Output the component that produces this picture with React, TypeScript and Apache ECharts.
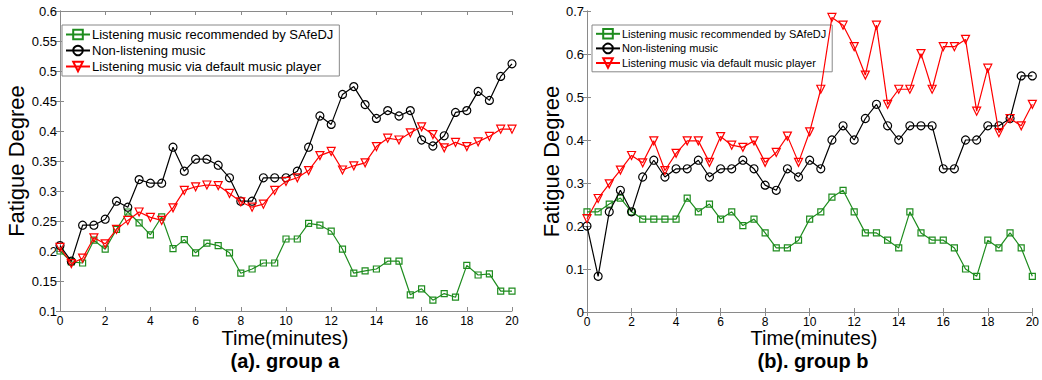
import React, { useEffect, useRef } from "react";
import * as echarts from "echarts";

const TIMES = [0, 0.5, 1, 1.5, 2, 2.5, 3, 3.5, 4, 4.5, 5, 5.5, 6, 6.5, 7, 7.5, 8, 8.5, 9, 9.5, 10, 10.5, 11, 11.5, 12, 12.5, 13, 13.5, 14, 14.5, 15, 15.5, 16, 16.5, 17, 17.5, 18, 18.5, 19, 19.5, 20];

const SERIES_NAMES = [
  "Listening music recommended by SAfeDJ",
  "Non-listening music",
  "Listening music via default music player",
];

// group a
const A_SAFEDJ = [0.2, 0.182, 0.18, 0.218, 0.203, 0.236, 0.265, 0.247, 0.227, 0.257, 0.204, 0.219, 0.197, 0.213, 0.209, 0.197, 0.163, 0.17, 0.18, 0.18, 0.22, 0.22, 0.246, 0.243, 0.233, 0.203, 0.163, 0.167, 0.17, 0.183, 0.183, 0.127, 0.137, 0.118, 0.129, 0.123, 0.176, 0.16, 0.162, 0.133, 0.133];
const A_NONE = [0.209, 0.183, 0.243, 0.243, 0.253, 0.283, 0.273, 0.319, 0.313, 0.313, 0.373, 0.333, 0.353, 0.353, 0.343, 0.322, 0.283, 0.283, 0.322, 0.322, 0.322, 0.333, 0.373, 0.425, 0.411, 0.461, 0.474, 0.444, 0.421, 0.434, 0.425, 0.434, 0.385, 0.375, 0.392, 0.431, 0.434, 0.466, 0.451, 0.491, 0.512];
const A_DEFAULT = [0.206, 0.179, 0.188, 0.222, 0.212, 0.236, 0.251, 0.265, 0.256, 0.251, 0.272, 0.301, 0.307, 0.31, 0.309, 0.296, 0.282, 0.273, 0.278, 0.301, 0.316, 0.322, 0.334, 0.359, 0.366, 0.335, 0.342, 0.347, 0.374, 0.388, 0.385, 0.397, 0.407, 0.394, 0.372, 0.381, 0.374, 0.382, 0.391, 0.403, 0.403];

// group b
const B_SAFEDJ = [0.233, 0.233, 0.251, 0.265, 0.233, 0.216, 0.216, 0.216, 0.216, 0.265, 0.233, 0.251, 0.216, 0.233, 0.201, 0.216, 0.184, 0.149, 0.149, 0.167, 0.216, 0.233, 0.267, 0.283, 0.233, 0.184, 0.184, 0.167, 0.149, 0.233, 0.184, 0.167, 0.167, 0.149, 0.1, 0.083, 0.167, 0.149, 0.184, 0.149, 0.083];
const B_NONE = [0.2, 0.083, 0.233, 0.283, 0.233, 0.314, 0.353, 0.314, 0.333, 0.333, 0.353, 0.314, 0.333, 0.333, 0.353, 0.333, 0.295, 0.283, 0.333, 0.314, 0.353, 0.333, 0.4, 0.433, 0.4, 0.45, 0.483, 0.433, 0.4, 0.433, 0.433, 0.433, 0.333, 0.333, 0.4, 0.4, 0.433, 0.433, 0.45, 0.549, 0.549];
const B_DEFAULT = [0.217, 0.264, 0.298, 0.33, 0.364, 0.347, 0.398, 0.329, 0.369, 0.398, 0.398, 0.348, 0.408, 0.388, 0.383, 0.398, 0.348, 0.371, 0.409, 0.348, 0.419, 0.518, 0.685, 0.667, 0.617, 0.551, 0.667, 0.483, 0.518, 0.518, 0.601, 0.518, 0.617, 0.617, 0.634, 0.467, 0.567, 0.417, 0.45, 0.433, 0.483];

const X_TITLE = "Time(minutes)";
const Y_TITLE = "Fatigue Degree";
const CAPTIONS = ["(a). group a", "(b). group b"];

const COLORS = ["#1e8c1e", "#000000", "#ff0000"];
const SYMBOLS = ["rect", "circle", "triangle"];
const SYMBOL_SIZES = [6, 8, 8];
const SYMBOL_ROTATES = [0, 0, 180];

const FONT = "Liberation Sans, Arial, sans-serif";
const AXIS_COLOR = "#8a8a8a";

export default function App() {
  const ref = useRef<HTMLDivElement>(null);

  useEffect(() => {
    if (!ref.current) return;
    const chart = echarts.init(ref.current, null, { renderer: "svg" });

    const grids = [
      { left: 60, top: 11, width: 452, height: 300 },
      { left: 587, top: 11, width: 452, height: 301 },
    ];
    const yRanges = [
      { min: 0.1, max: 0.6, interval: 0.05 },
      { min: 0, max: 0.7, interval: 0.1 },
    ];

    const xAxes: any[] = [];
    const yAxes: any[] = [];
    [0, 1].forEach((g) => {
      const baseX = {
        type: "value",
        gridIndex: g,
        min: 0,
        max: 20,
        interval: 2,
        splitLine: { show: false },
        axisLine: { show: true, lineStyle: { color: AXIS_COLOR, width: 1 } },
        axisTick: { show: true, inside: true, length: 4, lineStyle: { color: AXIS_COLOR } },
      };
      xAxes.push({
        ...baseX,
        position: "bottom",
        axisLabel: { show: true, color: "#000", fontSize: 12, lineHeight: 12, fontFamily: FONT, margin: 4 },
      });
      xAxes.push({ ...baseX, position: "top", axisLabel: { show: false } });

      const r = yRanges[g];
      const baseY = {
        type: "value",
        gridIndex: g,
        min: r.min,
        max: r.max,
        interval: r.interval,
        splitLine: { show: false },
        axisLine: { show: true, lineStyle: { color: AXIS_COLOR, width: 1 } },
        axisTick: { show: true, inside: true, length: 4, lineStyle: { color: AXIS_COLOR } },
      };
      yAxes.push({
        ...baseY,
        position: "left",
        axisLabel: {
          show: true,
          color: "#000",
          fontSize: 13,
          fontFamily: FONT,
          margin: 3,
          formatter: (v: number) => String(Math.round(v * 100) / 100),
        },
        name: Y_TITLE,
        nameLocation: "middle",
        nameGap: g === 0 ? 30 : 25,
        nameTextStyle: { color: "#000", fontSize: 22, fontFamily: FONT },
      });
      yAxes.push({ ...baseY, position: "right", axisLabel: { show: false } });
    });

    const groups = [
      [A_SAFEDJ, A_NONE, A_DEFAULT],
      [B_SAFEDJ, B_NONE, B_DEFAULT],
    ];
    const series: any[] = [];
    groups.forEach((arrs, g) => {
      arrs.forEach((vals, k) => {
        series.push({
          type: "line",
          name: SERIES_NAMES[k],
          xAxisIndex: g * 2,
          yAxisIndex: g * 2,
          data: vals.map((v, i) => [TIMES[i], v]),
          symbol: SYMBOLS[k],
          symbolSize: SYMBOL_SIZES[k],
          symbolRotate: SYMBOL_ROTATES[k],
          showAllSymbol: true,
          lineStyle: { color: COLORS[k], width: 1.2 },
          itemStyle: { color: "rgba(255,255,255,0)", borderColor: COLORS[k], borderWidth: 1.2 },
          z: 2 + k,
        });
      });
    });

    const legendBase = {
      orient: "vertical",
      backgroundColor: "#fff",
      borderColor: "#888",
      borderWidth: 1,
      borderRadius: 0,
      itemGap: 3,
      itemHeight: 12,
      itemWidth: 24,
      data: SERIES_NAMES,
      selectedMode: false,
      inactiveColor: "#000",
    };

    const titleX = [285, 814];
    const captionX = [285, 813];

    const graphics: any[] = [];
    [0, 1].forEach((i) => {
      graphics.push({
        type: "text",
        x: titleX[i],
        y: 338,
        style: {
          text: X_TITLE,
          fill: "#000",
          font: `20px ${FONT}`,
          lineHeight: 20,
          align: "center",
          verticalAlign: "middle",
        },
      });
      graphics.push({
        type: "text",
        x: captionX[i],
        y: 361,
        style: {
          text: CAPTIONS[i],
          fill: "#000",
          font: `bold 20px ${FONT}`,
          lineHeight: 20,
          align: "center",
          verticalAlign: "middle",
        },
      });
    });

    chart.setOption({
      animation: false,
      backgroundColor: "#fff",
      grid: grids.map((gr) => ({ ...gr, containLabel: false })),
      xAxis: xAxes,
      yAxis: yAxes,
      legend: [
        {
          ...legendBase,
          left: 62,
          top: 25,
          padding: [3, 6, 3, 3],
          textStyle: { color: "#000", fontSize: 13, fontFamily: FONT, padding: [0, 0, 0, -3] },
        },
        {
          ...legendBase,
          left: 592,
          top: 25,
          padding: [3, 6, 3, 3],
          textStyle: { color: "#000", fontSize: 11, fontFamily: FONT, padding: [0, 0, 0, -3] },
        },
      ],
      graphic: graphics,
      series,
    });

    return () => chart.dispose();
  }, []);

  return (
    <div
      ref={ref}
      style={{ position: "fixed", left: 0, top: 0, width: 1042, height: 380 }}
    />
  );
}
